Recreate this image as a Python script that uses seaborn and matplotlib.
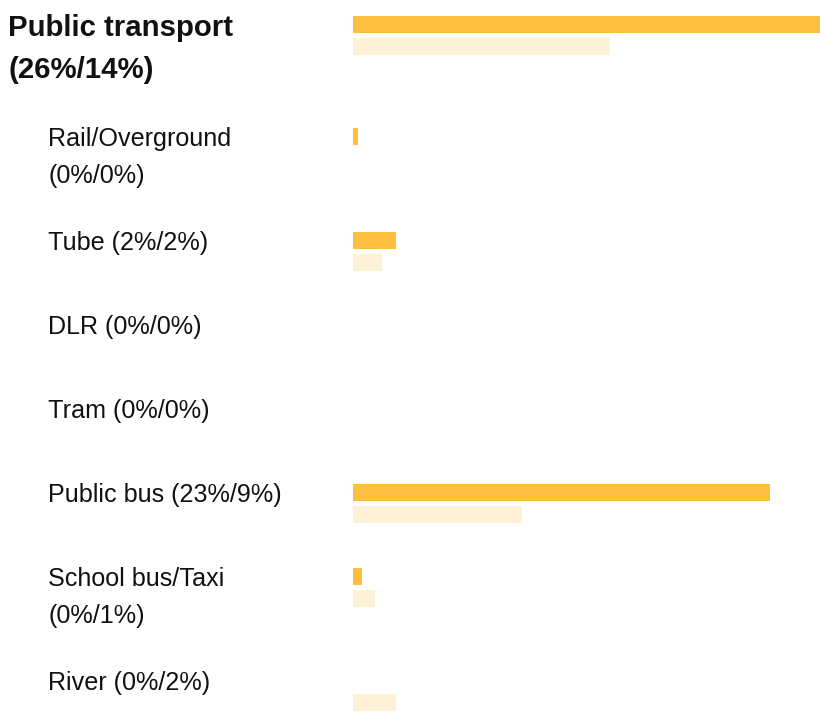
import numpy as np
import pandas as pd
import matplotlib.pyplot as plt
import matplotlib.transforms as mtransforms
import seaborn as sns

# data (percent)
categories = ['Public transport', 'Rail/Overground', 'Tube', 'DLR', 'Tram',
              'Public bus', 'School bus/Taxi', 'River']
share_first = [26.0, 0.3, 2.4, 0.0, 0.0, 23.2, 0.5, 0.0]
share_second = [14.3, 0.0, 1.6, 0.0, 0.0, 9.4, 1.2, 2.4]
pct_first = [26, 0, 2, 0, 0, 23, 0, 0]
pct_second = [14, 0, 2, 0, 0, 9, 1, 2]
wrap_label = [True, True, False, False, False, False, True, False]

DARK = '#FEBF41'
LIGHT = '#FDF1D8'

sns.set_theme(style='white')
plt.rcParams['font.family'] = ['Liberation Sans', 'DejaVu Sans']

W, H = 821, 726
BAR_H, BAR_GAP = 17, 5
PLOT_LEFT, PLOT_RIGHT = 353, 820

# vertical layout of the rows, in pixels from the top
centers = []
y = 16 + BAR_H + BAR_GAP / 2
for i, cat in enumerate(categories):
    centers.append(y)
    if i == 0:
        y += 112
    elif wrap_label[i]:
        y += 104
    else:
        y += 84

n = len(categories)
df = pd.DataFrame({
    'category': categories * 2,
    'pos': centers * 2,
    'value': share_first + share_second,
    'series': ['first'] * n + ['second'] * n,
})

fig = plt.figure(figsize=(W / 100, H / 100), dpi=100)
ax = fig.add_axes([0, 0, 1, 1])

slot = BAR_H + BAR_GAP
native = np.diff(sorted(centers)).min()
sns.barplot(data=df, x='value', y='pos', hue='series', orient='h',
            native_scale=True, palette=[DARK, LIGHT], saturation=1,
            width=2 * slot / native, gap=BAR_GAP / slot, dodge=True,
            linewidth=0, legend=False, ax=ax)

px = max(share_first) / (PLOT_RIGHT - PLOT_LEFT)
ax.set_xlim(-PLOT_LEFT * px, (W - PLOT_LEFT) * px)
ax.set_ylim(H, 0)
ax.set_axis_off()

trans = mtransforms.blended_transform_factory(ax.transAxes, ax.transData)
for i, cat in enumerate(categories):
    tag = f'({pct_first[i]}%/{pct_second[i]}%)'
    lines = [cat, tag] if wrap_label[i] else [f'{cat} {tag}']
    top_line = centers[i] - slot / 2
    if i == 0:
        x0, size, weight, step = 8, 21.2, 'bold', 43
    else:
        x0, size, weight, step = 48, 18.1, 'normal', 37
    for k, line in enumerate(lines):
        ax.text(x0 / W, top_line + k * step, line, transform=trans,
                fontsize=size, fontweight=weight, va='center_baseline',
                color='#111111')

fig.savefig('out.png', dpi=100)
